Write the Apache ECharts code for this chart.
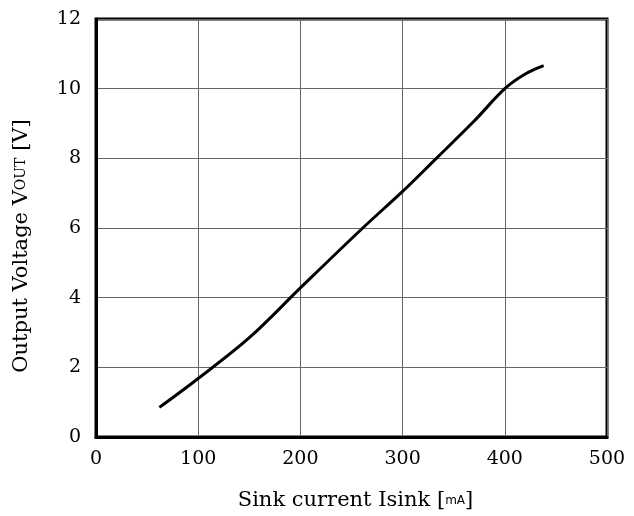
<!DOCTYPE html>
<html>
<head>
<meta charset="utf-8">
<script src="https://cdn.jsdelivr.net/npm/echarts@6/dist/echarts.min.js"></script>
<style>html,body{margin:0;padding:0;background:#fff;}#c{width:634px;height:516px;}</style>
</head>
<body>
<div id="c"></div>
<script>
const sinkCurrent = [62, 100, 150, 200, 261, 300, 333, 370, 400, 420, 438];
const outputVoltage = [0.85, 1.68, 2.85, 4.28, 6.0, 7.05, 8.0, 9.07, 10.0, 10.42, 10.66];
const xTicks = [0, 100, 200, 300, 400, 500];
const yTicks = [0, 2, 4, 6, 8, 10, 12];

const chart = echarts.init(document.getElementById('c'));
const tickFont = '"DejaVu Serif", serif';
const titleFont = '"DejaVu Serif", serif';
chart.setOption({
  animation: false,
  backgroundColor: '#fff',
  grid: { left: 96, right: 27, top: 19, bottom: 71, show: true, borderColor: '#000', borderWidth: 3 },
  xAxis: {
    type: 'value', min: xTicks[0], max: xTicks[xTicks.length - 1], interval: 100,
    name: 'Sink current Isink [{s|mA}]',
    nameLocation: 'middle', nameGap: 53,
    nameTextStyle: { fontFamily: titleFont, fontSize: 21, color: '#000', padding: [0, 0, 0, 8],
      rich: { s: { fontFamily: '"DejaVu Sans", sans-serif', fontSize: 12, color: '#000' } } },
    axisLine: { show: true, lineStyle: { color: '#000', width: 3 } },
    axisTick: { show: false },
    axisLabel: { fontFamily: tickFont, fontSize: 19, color: '#000', margin: 13 },
    splitLine: { show: true, lineStyle: { color: '#666', width: 1 } }
  },
  yAxis: {
    type: 'value', min: yTicks[0], max: yTicks[yTicks.length - 1], interval: 2,
    name: 'Output Voltage V{s|OUT} [V]',
    nameLocation: 'middle', nameGap: 64,
    nameTextStyle: { fontFamily: titleFont, fontSize: 21, color: '#000', padding: [0, 36, 0, 0],
      rich: { s: { fontFamily: titleFont, fontSize: 14, color: '#000' } } },
    axisLine: { show: true, lineStyle: { color: '#000', width: 3 } },
    axisTick: { show: false },
    axisLabel: { fontFamily: tickFont, fontSize: 19, color: '#000', margin: 15 },
    splitLine: { show: true, lineStyle: { color: '#666', width: 1 } }
  },
  series: [{
    type: 'line',
    data: sinkCurrent.map((x, i) => [x, outputVoltage[i]]),
    smooth: 0.35,
    showSymbol: false,
    lineStyle: { color: '#000', width: 3 }
  }]
});
</script>
</body>
</html>
